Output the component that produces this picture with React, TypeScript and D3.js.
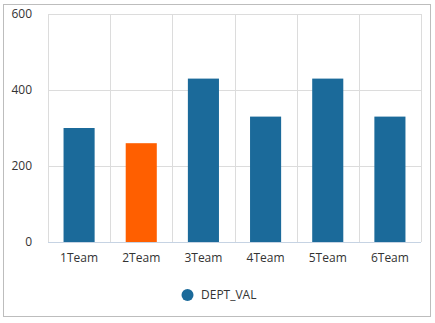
import React from "react";
import * as d3 from "d3";

const categories = ["1Team", "2Team", "3Team", "4Team", "5Team", "6Team"];
const values = [300, 260, 430, 330, 430, 330];
const highlighted = ["2Team"];
const yTicks = [0, 200, 400, 600];
const seriesName = "DEPT_VAL";

const W = 435;
const H = 323;
const plot = { left: 48, right: 421, top: 14, bottom: 242 };
const BLUE = "#1b6a9a";
const ORANGE = "#ff5f00";
const FONT = "'Open Sans', 'Noto Sans', sans-serif";

export default function App() {
  const x = d3.scaleBand().domain(categories).range([plot.left, plot.right]).paddingInner(0).paddingOuter(0);
  const y = d3.scaleLinear().domain([0, 600]).range([plot.bottom, plot.top]);
  const bw = x.bandwidth() * 0.5;

  return (
    <svg width={W} height={H} style={{ position: "absolute", left: 0, top: 0 }}>
      <rect x={3.5} y={4.5} width={427} height={312} fill="#fff" stroke="#bdbdbd" strokeWidth={1} />
      {yTicks.map((t) => (
        <line key={"h" + t} x1={plot.left} x2={plot.right} y1={Math.round(y(t)) + 0.5} y2={Math.round(y(t)) + 0.5} stroke="#dcdcdc" strokeWidth={1} />
      ))}
      {categories.map((c) => (
        <line key={"v" + c} x1={Math.round(x(c)!) + 0.5} x2={Math.round(x(c)!) + 0.5} y1={plot.top} y2={plot.bottom} stroke="#dcdcdc" strokeWidth={1} />
      ))}
      <line x1={plot.right + 0.5} x2={plot.right + 0.5} y1={plot.top} y2={plot.bottom} stroke="#dcdcdc" strokeWidth={1} />
      {categories.map((c, i) => (
        <rect
          key={"b" + c}
          x={x(c)! + (x.bandwidth() - bw) / 2}
          y={y(values[i])}
          width={bw}
          height={y(0) - y(values[i])}
          fill={highlighted.includes(c) ? ORANGE : BLUE}
        />
      ))}
      <line x1={plot.left} x2={plot.right} y1={plot.bottom + 0.5} y2={plot.bottom + 0.5} stroke="#c6d3e3" strokeWidth={1} />
      {yTicks.map((t) => (
        <text key={"yt" + t} x={32} y={y(t)} dy="0.35em" textAnchor="end" fontFamily={FONT} fontSize={12} fill="#333">
          {t}
        </text>
      ))}
      {categories.map((c) => (
        <text key={"xt" + c} x={x(c)! + x.bandwidth() / 2} y={262} textAnchor="middle" fontFamily={FONT} fontSize={12} fill="#333">
          {c}
        </text>
      ))}
      <circle cx={187.5} cy={295} r={6} fill={BLUE} />
      <text x={201} y={295} dy="0.35em" fontFamily={FONT} fontSize={12} fill="#333">
        {seriesName}
      </text>
    </svg>
  );
}
